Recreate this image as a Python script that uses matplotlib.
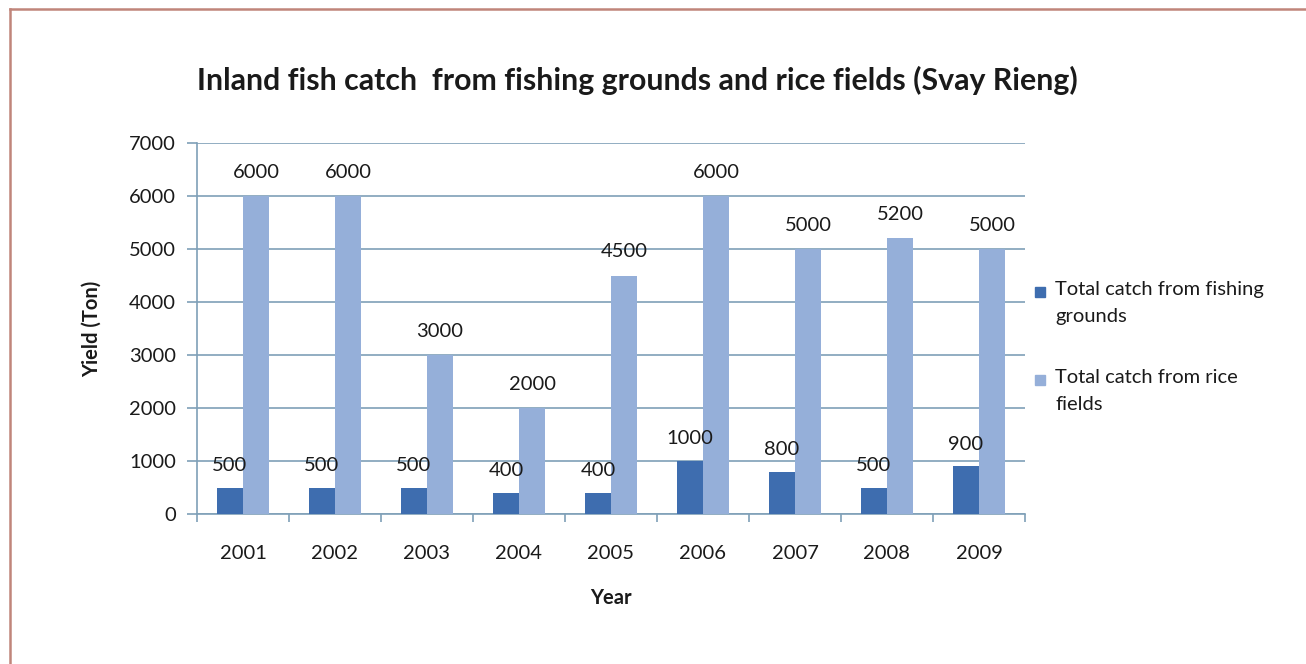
import matplotlib
matplotlib.use("Agg")
import matplotlib.pyplot as plt
from matplotlib.patches import Rectangle
from matplotlib.lines import Line2D
import numpy as np

years = ["2001", "2002", "2003", "2004", "2005", "2006", "2007", "2008", "2009"]
fishing_grounds = [500, 500, 500, 400, 400, 1000, 800, 500, 900]
rice_fields = [6000, 6000, 3000, 2000, 4500, 6000, 5000, 5200, 5000]
series_names = ["Total catch from fishing\ngrounds", "Total catch from rice\nfields"]
title = "Inland fish catch  from fishing grounds and rice fields (Svay Rieng)"

plt.rcParams['font.family'] = ['Lato', 'DejaVu Sans']

W, H = 1306, 664
fig = plt.figure(figsize=(W / 100, H / 100), dpi=100)
fig.patch.set_facecolor('white')

dark = '#3E6DAF'
light = '#95AFD9'
grid_c = '#7FA0B8'
txt = '#1a1a1a'
fs = 14.5

ax = fig.add_axes([197 / W, 1 - 514 / H, (1025 - 197) / W, (514 - 143) / H])
x = np.arange(len(years))
bw = 0.283
ax.bar(x - bw / 2, fishing_grounds, bw, color=dark, zorder=3)
ax.bar(x + bw / 2, rice_fields, bw, color=light, zorder=3)

for xi, v in zip(x, fishing_grounds):
    ax.text(xi - bw / 2, v + 420, f"{v}", ha='center', va='center', fontsize=fs, color=txt, zorder=4)
for xi, v in zip(x, rice_fields):
    ax.text(xi + bw / 2, v + 450, f"{v}", ha='center', va='center', fontsize=fs, color=txt, zorder=4)

ax.set_xlim(-0.5, len(years) - 0.5)
ax.set_ylim(0, 7000)
ax.set_yticks(np.arange(0, 7001, 1000))
ax.set_yticklabels([str(v) for v in range(0, 7001, 1000)], fontsize=fs, color=txt)
ax.yaxis.grid(True, color=grid_c, linewidth=1.2, zorder=0)
ax.set_xticks(x)
ax.set_xticklabels(years, fontsize=fs, color=txt)
ax.tick_params(axis='x', length=0, pad=22)
ax.set_xticks(np.arange(-0.5, len(years), 1), minor=True)
ax.tick_params(axis='x', which='minor', length=6, color=grid_c, width=1.2)
ax.tick_params(axis='y', length=7, color=grid_c, width=1.2, pad=8)
for s in ['top', 'right']:
    ax.spines[s].set_visible(False)
ax.spines['left'].set_color(grid_c)
ax.spines['left'].set_linewidth(1.2)
ax.spines['bottom'].set_color(grid_c)
ax.spines['bottom'].set_linewidth(1.2)

ax.set_xlabel("Year", fontsize=fs, fontweight='bold', color=txt, labelpad=19)
ax.set_ylabel("Yield (Ton)", fontsize=fs, fontweight='bold', color=txt, labelpad=20)

fig.text(637.5 / W, 1 - 80 / H, title, ha='center', va='center', fontsize=21.8, fontweight='bold', color=txt)

# legend
leg_y = [292, 380]
for name, col, yy in zip(series_names, [dark, light], leg_y):
    fig.patches.append(Rectangle((1035 / W, 1 - (yy + 5) / H), 10 / W, 10 / H,
                                 transform=fig.transFigure, color=col))
    fig.text(1055 / W, 1 - (yy - 11) / H, name, ha='left', va='top', fontsize=fs,
             color=txt, linespacing=1.68)

# frame border (left and top)
fig.add_artist(Line2D([10 / W, 10 / W], [0, 1 - 9 / H], transform=fig.transFigure, color='#C0857A', linewidth=1.8))
fig.add_artist(Line2D([10 / W, 1], [1 - 9 / H, 1 - 9 / H], transform=fig.transFigure, color='#C0857A', linewidth=1.8))

fig.savefig("out.png", dpi=100)
